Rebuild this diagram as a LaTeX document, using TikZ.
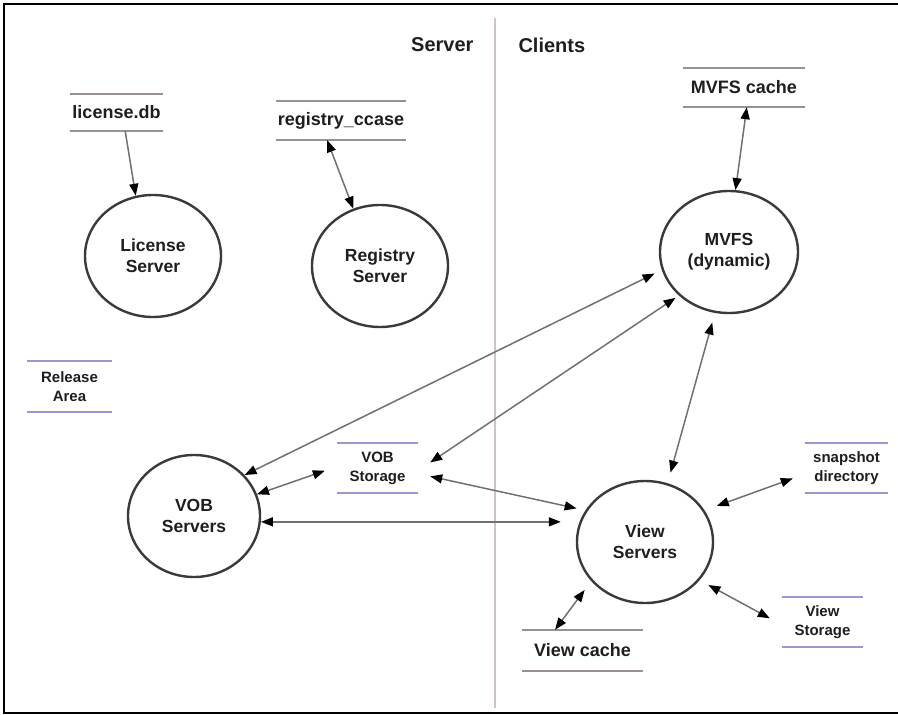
\documentclass[tikz,border=0pt]{standalone}
\usepackage{fontspec}
\setmainfont{Liberation Sans}
\usetikzlibrary{shapes.geometric,arrows.meta}
\definecolor{circ}{HTML}{3A3A3A}
\definecolor{connc}{HTML}{707070}
\definecolor{grayline}{HTML}{9A9090}
\definecolor{purpline}{HTML}{9C96CC}
\definecolor{txt}{HTML}{1E1E1E}
\definecolor{divider}{HTML}{CFC4C4}
\begin{document}
\begin{tikzpicture}[x=1pt,y=-1pt,
  proc/.style={ellipse,draw=circ,line width=2.4pt,minimum width=136pt,minimum height=122pt,inner sep=0pt,align=center,text=txt,font=\bfseries\fontsize{17.5}{21}\selectfont},
  store/.style={rectangle,inner sep=0pt,align=center,text=txt},
  big/.style={font=\bfseries\fontsize{18}{21}\selectfont},
  small/.style={font=\bfseries\fontsize{15}{19}\selectfont},
  title/.style={font=\bfseries\fontsize{20}{24}\selectfont,text=txt},
  link/.style={draw=connc,line width=1.5pt,<->,>={Triangle[length=12pt,width=9pt,color=black]}},
  linkone/.style={draw=connc,line width=1.5pt,->,>={Triangle[length=12pt,width=9pt,color=black]}}
]
\useasboundingbox (0,0) rectangle (898,715);
% frame
\draw[line width=2.5pt,black] (898,4) -- (4,4) -- (4,713) -- (898,713);
% divider
\draw[divider,line width=2pt] (495,18) -- (495,708);
% titles
\node[title,anchor=east] (srv) at (477,45) {Server};
\node[title,anchor=west] (cli) at (515,45) {Clients};

% processes
\node[proc] (lic) at (153,256) {License\\Server};
\node[proc] (reg) at (380,266) {Registry\\Server};
\node[proc,minimum width=138pt] (mvfs) at (729,252) {MVFS\\(dynamic)};
\node[proc,minimum width=132pt] (vob) at (194,516) {VOB\\Servers};
\node[proc] (view) at (645,542) {View\\Servers};

% stores
\node[store,big,minimum width=117pt,minimum height=37pt] (ldb) at (116.5,112.5) {license.db};
\node[store,big,minimum width=154pt,minimum height=39pt] (rcc) at (341,120.5) {registry\_ccase};
\node[store,big,minimum width=146pt,minimum height=39pt] (mcache) at (744,87.5) {MVFS cache};
\node[store,small,minimum width=109pt,minimum height=51pt] (rel) at (69.5,386.5) {Release\\Area};
\node[store,small,minimum width=105pt,minimum height=50pt] (vst) at (377.5,468) {VOB\\Storage};
\node[store,small,minimum width=107pt,minimum height=50pt] (snap) at (846.5,468) {snapshot\\directory};
\node[store,small,minimum width=105pt,minimum height=50pt] (vsto) at (822.5,622) {View\\Storage};
\node[store,big,minimum width=145pt,minimum height=41pt] (vcache) at (582.5,650.5) {View cache};

\foreach \n/\c in {ldb/grayline,rcc/grayline,mcache/grayline,vcache/grayline,rel/purpline,vst/purpline,snap/purpline,vsto/purpline}{
  \draw[\c,line width=2.4pt] ([xshift=12pt]\n.north west) -- ([xshift=-12pt]\n.north east)
                            ([xshift=12pt]\n.south west) -- ([xshift=-12pt]\n.south east);
}

% connectors
\draw[linkone] (ldb.-65) -- (lic.106);
\draw[link] (rcc.-125) -- (reg.115);
\draw[link] (mcache.-82) -- (mvfs.84);
\draw[link,shorten <=8pt] (mvfs.195) -- (vob.39);
\draw[link,shorten <=4pt] (mvfs.221) -- (vst.6);
\draw[link,shorten <=10pt,shorten >=11pt] (mvfs.-103) -- (view.69);
\draw[link] (vob.19) -- (vst.183);
\draw[link,shorten >=15pt] (vob.-5) -- (vob.-5 -| view.west);
\draw[link,shorten >=9pt] (vst.-9) -- (view.152);
\draw[link,shorten >=13pt] (snap.191) -- (view.28);
\draw[link,shorten <=10pt] (view.-35) -- (vsto.176);
\draw[link,shorten <=11pt] (view.216) -- (vcache.143);
\end{tikzpicture}
\end{document}
